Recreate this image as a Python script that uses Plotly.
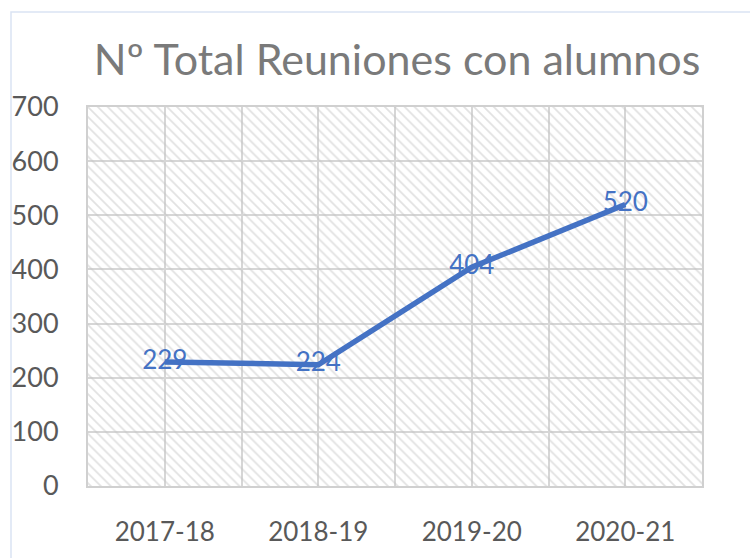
import plotly.graph_objects as go

categories = ["2017-18", "2018-19", "2019-20", "2020-21"]
values = [229, 224, 404, 520]
y_ticks = [0, 100, 200, 300, 400, 500, 600, 700]
title_text = "Nº Total Reuniones con alumnos"

FONT = "Lato, sans-serif"
W, H = 750, 558
ML, MR, MT, MB = 88, 48, 107, 72
pw, ph = W - ML - MR, H - MT - MB

xs = list(range(len(categories)))
x_lo, x_hi = -0.5, len(categories) - 0.5
y_lo, y_hi = y_ticks[0], y_ticks[-1]

fig = go.Figure()

# hatched plot-area background
fig.add_trace(go.Scatter(
    x=[x_lo, x_hi, x_hi, x_lo, x_lo],
    y=[y_lo, y_lo, y_hi, y_hi, y_lo],
    mode="lines", line=dict(width=0),
    fill="toself", fillcolor="rgba(0,0,0,0)",
    fillpattern=dict(shape="\\", fgcolor="#c4c4c4", bgcolor="rgba(0,0,0,0)",
                     size=7, solidity=0.25),
    hoverinfo="skip", showlegend=False,
))

fig.add_trace(go.Scatter(
    x=xs, y=values, mode="lines+text",
    line=dict(color="#4472c4", width=5.5),
    text=[str(v) for v in values], textposition="middle center",
    textfont=dict(family=FONT, size=26, color="#4472c4"),
    showlegend=False,
))

# chart outer border
fig.add_shape(type="rect", xref="paper", yref="paper",
              x0=(11 - ML) / pw, x1=(W + 20 - ML) / pw,
              y0=(H - MB - (H + 20)) / ph, y1=(H - MB - 12) / ph,
              line=dict(color="#dae3f3", width=1.5), fillcolor="rgba(0,0,0,0)")

fig.update_layout(
    width=W, height=H,
    margin=dict(l=ML, r=MR, t=MT, b=MB),
    paper_bgcolor="white", plot_bgcolor="white",
    title=dict(text=title_text, x=397 / W, xanchor="center",
               y=1 - 60 / H, yanchor="middle", automargin=False,
               font=dict(family=FONT, size=43, color="#7a7a7a")),
    xaxis=dict(range=[x_lo, x_hi], tickvals=xs, ticktext=categories,
               showgrid=True, gridcolor="#d6d6d6", gridwidth=2,
               minor=dict(tickvals=[x + 0.5 for x in xs[:-1]], showgrid=True,
                          gridcolor="#d6d6d6", gridwidth=2),
               zeroline=False, showline=True, linecolor="#d0d0d0", linewidth=2,
               mirror=True, ticks="", ticklabelstandoff=22, automargin=False,
               tickfont=dict(family=FONT, size=26, color="#595959")),
    yaxis=dict(range=[y_lo, y_hi], tickvals=y_ticks,
               showgrid=True, gridcolor="#d6d6d6", gridwidth=2,
               zeroline=False, showline=True, linecolor="#d0d0d0", linewidth=2,
               mirror=True, ticks="", ticklabelstandoff=22, automargin=False,
               tickfont=dict(family=FONT, size=27, color="#595959")),
)

fig.write_html("out.html", config={"displayModeBar": False},
               post_script="document.body.style.margin='0px';")
